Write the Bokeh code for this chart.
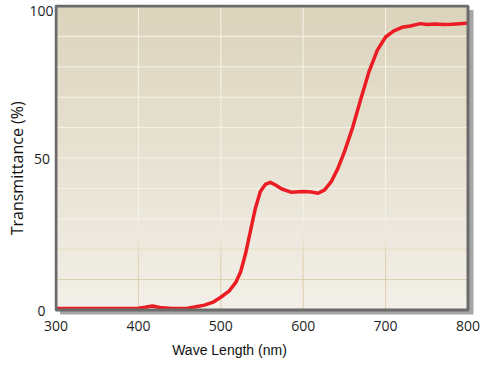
import numpy as np
from bokeh.plotting import figure
from bokeh.models import Range1d
from bokeh.embed import file_html
from bokeh.resources import INLINE

# ---- data ----
wavelength = [300, 350, 400, 408, 417, 426, 440, 460, 470, 480, 490, 500, 510, 518,
              524, 530, 536, 542, 548, 554, 560, 566, 574, 586, 600, 610, 618, 626,
              634, 642, 650, 660, 670, 680, 690, 700, 710, 720, 730, 742, 750, 760,
              770, 780, 790, 800]
transmittance = [0.5, 0.5, 0.6, 0.9, 1.3, 0.8, 0.5, 0.6, 1.1, 1.6, 2.5, 4.2, 6.2, 9.0,
                 12.5, 18.5, 26.0, 33.5, 39.0, 41.3, 42.0, 41.2, 39.8, 38.7, 39.0, 38.8,
                 38.4, 39.5, 42.2, 46.5, 52.0, 60.0, 69.5, 78.5, 85.5, 89.8, 91.8, 93.0,
                 93.4, 94.2, 93.9, 94.1, 93.9, 94.0, 94.2, 94.4]
x_ticks = [300, 400, 500, 600, 700, 800]
y_ticks = [0, 50, 100]
y_tick_labels = {0: "0\u2007", 50: "50\u2005", 100: "100"}
x_grid = [400, 500, 600, 700]
y_grid = [10, 20, 30, 40, 50, 60, 70, 80, 90]
x_title = "Wave Length (nm)"
y_title = "Transmittance (%)"

X0, X1, Y0, Y1 = 300, 800, 0, 100
IW, IH = 412, 304          # inner plot box (border centre lines) in pixels
px_x = (X1 - X0) / IW
px_y = (Y1 - Y0) / IH

p = figure(width=481, height=365,
           x_range=Range1d(X0 - 1.5 * px_x, X1 + 6.5 * px_x),
           y_range=Range1d(Y0 - 5.5 * px_y, Y1 + 1.5 * px_y),
           output_backend="svg", toolbar_location=None,
           min_border_left=54, min_border_right=7, min_border_top=4, min_border_bottom=50)
p.background_fill_color = "white"
p.border_fill_color = "white"
p.outline_line_color = None
p.xgrid.visible = False
p.ygrid.visible = False

for ax in (p.xaxis, p.yaxis):
    ax.axis_line_color = None
    ax.major_tick_line_color = None
    ax.minor_tick_line_color = None
    ax.major_label_text_font = "Open Sans"
    ax.major_label_text_font_size = "14px"
    ax.major_label_text_color = "#1e1e1e"

p.xaxis.ticker = x_ticks
p.xaxis.major_label_standoff = -1
p.xaxis.axis_label = x_title + "\u00a0" * 18
p.xaxis.axis_label_text_font = "Liberation Sans"
p.xaxis.axis_label_text_font_size = "14px"
p.xaxis.axis_label_text_font_style = "normal"
p.xaxis.axis_label_text_color = "#111111"
p.xaxis.axis_label_standoff = 8

p.yaxis.ticker = y_ticks
p.yaxis.major_label_overrides = y_tick_labels
p.yaxis.major_label_standoff = -5
p.yaxis.axis_label = y_title + "\u00a0" * 4
p.yaxis.axis_label_text_font = "Open Sans"
p.yaxis.axis_label_text_font_size = "16px"
p.yaxis.axis_label_text_font_style = "normal"
p.yaxis.axis_label_text_color = "#111111"
p.yaxis.axis_label_standoff = -2

# drop shadow of the plot box
p.quad(left=X0 + 4 * px_x, right=X1 + 5.5 * px_x, bottom=Y0 - 4.5 * px_y, top=Y1 - 4 * px_y,
       fill_color="#a6a6a6", line_color=None)

# background gradient inside the plot box
n = IH
t = np.linspace(0, 1, n)
top = np.array([220, 212, 188])
bot = np.array([243, 240, 233])
img = np.empty((n, 1), dtype=np.uint32)
view = img.view(dtype=np.uint8).reshape((n, 1, 4))
for k in range(3):
    view[:, 0, k] = (bot[k] + (top[k] - bot[k]) * t).astype(np.uint8)
view[:, 0, 3] = 255
p.image_rgba(image=[img], x=X0, y=Y0, dw=X1 - X0, dh=Y1 - Y0)


def grid_color(yv):
    light = np.array([247, 243, 232])
    tan = np.array([221, 206, 170])
    f = np.clip((yv - 15) / 15.0, 0, 1)
    c = tan + (light - tan) * f
    return "#%02x%02x%02x" % tuple(int(v) for v in c)


p.segment(x0=[X0] * len(y_grid), x1=[X1] * len(y_grid), y0=y_grid, y1=y_grid,
          line_color=[grid_color(v) for v in y_grid], line_width=1)
steps = np.arange(0, 100, 2.0)
vx, vy0, vy1, vc = [], [], [], []
for gx in x_grid:
    for s in steps:
        vx.append(gx); vy0.append(s); vy1.append(s + 2)
        vc.append(grid_color(s + 1))
p.segment(x0=vx, x1=vx, y0=vy0, y1=vy1, line_color=vc, line_width=1)

p.line(wavelength, transmittance, line_color="#ec1c24", line_width=3.5, line_join="round")

# plot box border
p.quad(left=X0, right=X1, bottom=Y0, top=Y1, fill_color=None,
       line_color="#6b6b6b", line_width=3)

open("out.html", "w").write(file_html(p, INLINE))
